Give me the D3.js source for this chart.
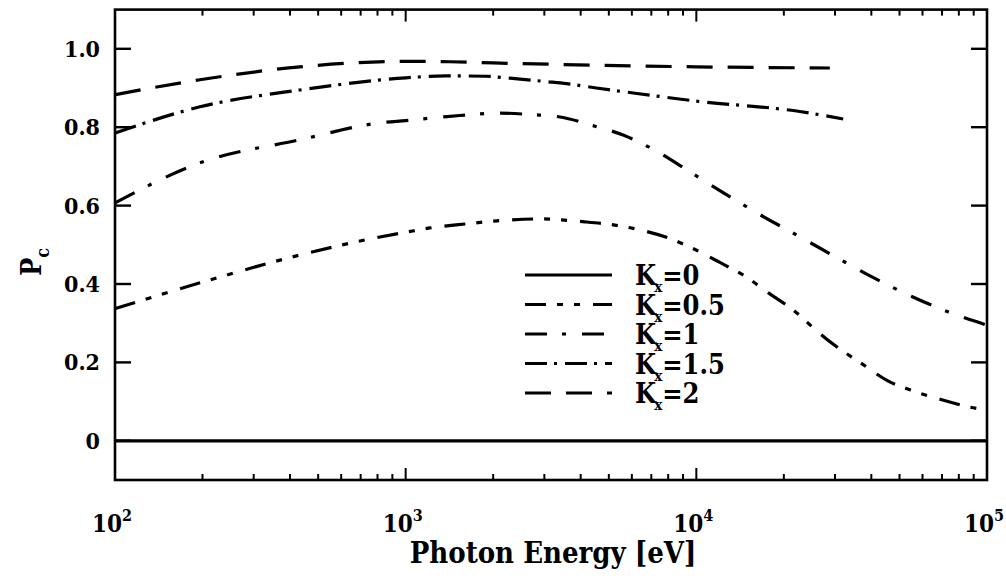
<!DOCTYPE html>
<html><head><meta charset="utf-8">
<script src="https://cdn.jsdelivr.net/npm/d3@7"></script>
<style>
body{margin:0;background:#fff;}
svg text{font-family:"DejaVu Serif Condensed","DejaVu Serif",serif;font-stretch:condensed;font-weight:bold;fill:#000;}
</style></head><body>
<svg id="c" width="1006" height="579"></svg>
<script>
// ---- data ----
const kLabels = ["0", "0.5", "1", "1.5", "2"];
const energyK0 = [100, 100000];
const pcK0 = [0, 0];
const energyK05 = [100, 196, 433, 816, 1000, 1213, 1600, 2060, 2895, 4070, 4930, 6400, 8110, 9510, 12050, 14700, 17650, 21850, 26000, 30000, 36550, 45600, 54300, 68900, 87300, 100000];
const pcK05 = [0.337, 0.403, 0.474, 0.52, 0.532, 0.543, 0.553, 0.561, 0.566, 0.559, 0.553, 0.538, 0.516, 0.494, 0.455, 0.42, 0.378, 0.33, 0.28, 0.243, 0.2, 0.153, 0.13, 0.106, 0.086, 0.078];
const energyK1 = [100, 196, 433, 816, 1000, 1390, 2110, 2720, 3400, 4410, 5600, 7040, 9510, 12360, 16550, 22750, 30000, 40200, 55600, 73400, 100000];
const pcK1 = [0.607, 0.709, 0.768, 0.811, 0.817, 0.827, 0.836, 0.832, 0.826, 0.804, 0.78, 0.745, 0.686, 0.633, 0.577, 0.52, 0.47, 0.418, 0.367, 0.329, 0.295];
const energyK15 = [100, 196, 433, 1000, 1370, 1880, 2280, 3080, 3580, 4530, 6250, 7930, 9860, 22700, 32000];
const pcK15 = [0.785, 0.852, 0.895, 0.926, 0.931, 0.93, 0.925, 0.916, 0.911, 0.90, 0.886, 0.876, 0.867, 0.84, 0.821];
const energyK2 = [100, 196, 433, 1000, 1422, 2000, 4660, 10000, 28800];
const pcK2 = [0.883, 0.921, 0.954, 0.968, 0.967, 0.964, 0.958, 0.954, 0.951];
const yTickValues = [0, 0.2, 0.4, 0.6, 0.8, 1.0];
const yTickLabels = ["0", "0.2", "0.4", "0.6", "0.8", "1.0"];
const xDecades = [100, 1000, 10000, 100000];
const xDecadeExp = ["2", "3", "4", "5"];

const series = [
  {k: kLabels[0], e: energyK0, p: pcK0, dash: null},
  {k: kLabels[1], e: energyK05, p: pcK05, dash: "21,11,6,11,6,13"},
  {k: kLabels[2], e: energyK1, p: pcK1, dash: "22,15,4,16"},
  {k: kLabels[3], e: energyK15, p: pcK15, dash: "22,7,3,8"},
  {k: kLabels[4], e: energyK2, p: pcK2, dash: "26,15"}
];

const svg = d3.select("#c");
const L = 115, R = 987;
const x = d3.scaleLog().domain([100, 100000]).range([L, R]);
const y = d3.scaleLinear().domain([-0.1, 1.1]).range([480, 9.6]);
const T = y(1.1), B = y(-0.1);

// frame
svg.append("rect").attr("x", L).attr("y", T).attr("width", R - L).attr("height", B - T)
  .attr("fill", "none").attr("stroke", "#000").attr("stroke-width", 2.6);

// x ticks (top & bottom)
const xt = x.ticks();
xt.forEach(v => {
  const major = xDecades.includes(v);
  const len = major ? 12 : 6;
  const px = x(v);
  svg.append("line").attr("x1", px).attr("x2", px).attr("y1", B).attr("y2", B - len).attr("stroke", "#000").attr("stroke-width", 2);
  svg.append("line").attr("x1", px).attr("x2", px).attr("y1", T).attr("y2", T + len).attr("stroke", "#000").attr("stroke-width", 2);
});
// y ticks
yTickValues.forEach((v, i) => {
  const py = y(v);
  svg.append("line").attr("x1", L).attr("x2", L + 16).attr("y1", py).attr("y2", py).attr("stroke", "#000").attr("stroke-width", 2.4);
  svg.append("line").attr("x1", R).attr("x2", R - 16).attr("y1", py).attr("y2", py).attr("stroke", "#000").attr("stroke-width", 2.4);
  svg.append("text").attr("x", 100).attr("y", py + 8).attr("text-anchor", "end").attr("font-size", 23).text(yTickLabels[i]);
});
// x labels
xDecades.forEach((v, i) => {
  const t = svg.append("text").attr("x", x(v) - 3).attr("y", 532).attr("text-anchor", "middle").attr("font-size", 24);
  t.append("tspan").text("10");
  t.append("tspan").attr("dy", -11).attr("font-size", 16).text(xDecadeExp[i]);
});
// axis titles
svg.append("text").attr("x", (L + R) / 2 + 2).attr("y", 563).attr("text-anchor", "middle").attr("font-size", 29).text("Photon Energy [eV]");
const yl = svg.append("text").attr("transform", "translate(41,262) rotate(-90)").attr("text-anchor", "middle").attr("font-size", 27);
yl.append("tspan").text("P");
yl.append("tspan").attr("dy", 8).attr("font-size", 18).text("c");

// curves
const line = d3.line().x(d => x(d[0])).y(d => y(d[1])).curve(d3.curveMonotoneX);
series.forEach(s => {
  const pts = s.e.map((e, i) => [e, s.p[i]]);
  svg.append("path").attr("d", line(pts)).attr("fill", "none").attr("stroke", "#000")
    .attr("stroke-width", 3.2).attr("stroke-dasharray", s.dash);
});

// legend
series.forEach((s, i) => {
  const ly = 275 + i * 29.5;
  svg.append("line").attr("x1", 525).attr("x2", 612).attr("y1", ly).attr("y2", ly)
    .attr("stroke", "#000").attr("stroke-width", 3.2).attr("stroke-dasharray", s.dash);
  const t = svg.append("text").attr("x", 635).attr("y", ly + 10).attr("font-size", 27);
  t.append("tspan").text("K");
  t.append("tspan").attr("dy", 7).attr("dx", -2).attr("font-size", 15).text("x");
  t.append("tspan").attr("dy", -7).text("=" + s.k);
});
</script>
</body></html>
